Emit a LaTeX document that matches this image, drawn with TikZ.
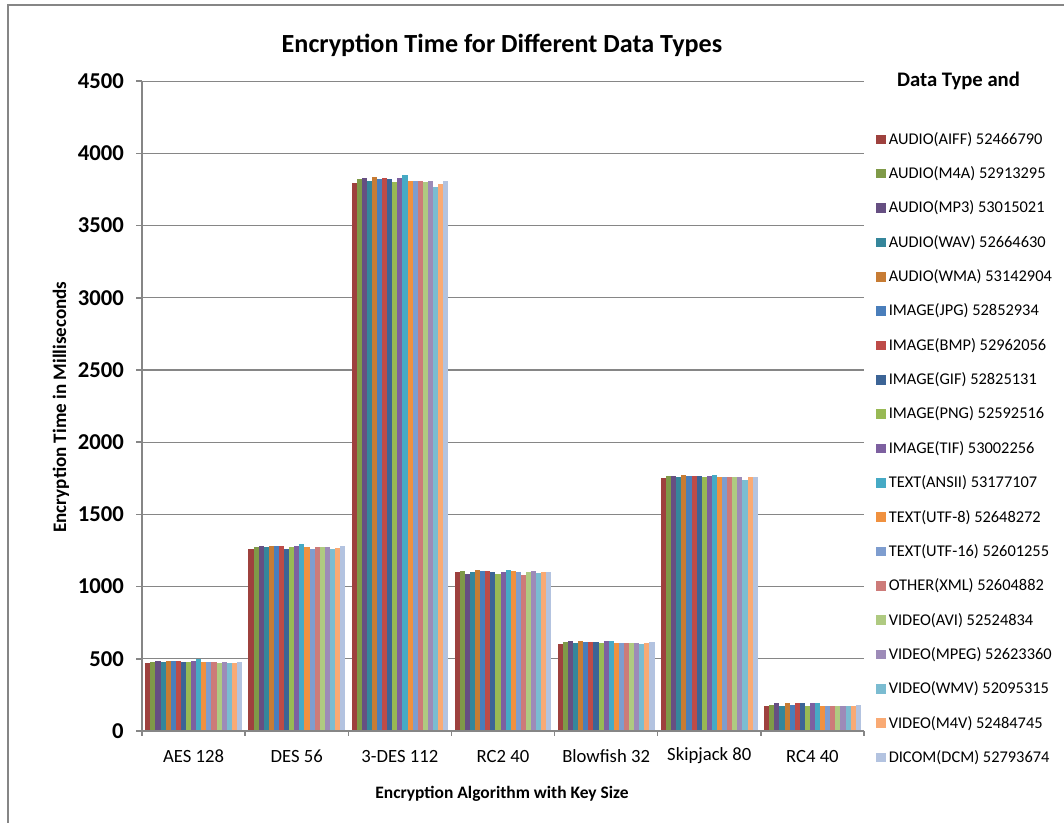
\documentclass[tikz,border=0pt]{standalone}
\usepackage{fontspec}
\setmainfont{Carlito}
\definecolor{c0}{HTML}{9E413E}
\definecolor{c1}{HTML}{7F9A48}
\definecolor{c2}{HTML}{664F82}
\definecolor{c3}{HTML}{35869B}
\definecolor{c4}{HTML}{C77C34}
\definecolor{c5}{HTML}{4A7EBB}
\definecolor{c6}{HTML}{BE4B48}
\definecolor{c7}{HTML}{3C6496}
\definecolor{c8}{HTML}{98B954}
\definecolor{c9}{HTML}{7D60A0}
\definecolor{c10}{HTML}{46AAC5}
\definecolor{c11}{HTML}{F0913F}
\definecolor{c12}{HTML}{7E9DCF}
\definecolor{c13}{HTML}{CD7B79}
\definecolor{c14}{HTML}{AFCA81}
\definecolor{c15}{HTML}{9D8BB8}
\definecolor{c16}{HTML}{7BBCD1}
\definecolor{c17}{HTML}{F9AA74}
\definecolor{c18}{HTML}{B3C3E0}
\definecolor{axisgray}{HTML}{868686}
\tikzset{
  gridline/.style={draw=axisgray, line width=1pt},
  axisline/.style={draw=axisgray, line width=1.1pt},
  frameline/.style={draw=axisgray, line width=1.3pt},
  ticklab/.style={font=\fontsize{17}{20}\selectfont\bfseries, anchor=east, inner sep=0pt},
  catlab/.style={font=\fontsize{14}{17}\selectfont, anchor=center, inner sep=0pt},
  legtext/.style={font=\fontsize{12.3}{15}\selectfont, anchor=west, inner sep=0pt},
  titlelab/.style={font=\fontsize{19.6}{23}\selectfont\bfseries, inner sep=0pt},
  axtitle/.style={font=\fontsize{13.1}{16}\selectfont\bfseries, inner sep=0pt},
  ytitlestyle/.style={font=\fontsize{14.3}{17}\selectfont\bfseries, inner sep=0pt},
  legtitlestyle/.style={font=\fontsize{15.5}{18}\selectfont\bfseries, inner sep=0pt},
}
\begin{document}
\begin{tikzpicture}[x=0.75pt,y=-0.75pt]
\useasboundingbox (0,0) rectangle (1064,822);
\fill[white] (0,0) rectangle (1064,822);
% outer frame
\draw[frameline] (8,830) -- (8,5) -- (1070,5);
% gridlines
\foreach \t in {500,1000,...,4500}
  \draw[gridline] (142,{731-\t*0.1444}) -- (864,{731-\t*0.1444});
% y ticks
\foreach \t in {0,500,...,4500}
  \draw[axisline] (136,{731-\t*0.1444}) -- (142,{731-\t*0.1444});
% bars
\foreach \vals [count=\g from 0] in {
 {469,476,487,476,487,487,487,476,476,487,499,476,476,476,469,476,469,469,476},
 {1258,1272,1283,1272,1283,1283,1283,1258,1272,1283,1293,1272,1258,1272,1272,1272,1258,1265,1283},
 {3793,3820,3827,3811,3836,3820,3827,3820,3799,3827,3848,3811,3811,3811,3799,3811,3765,3786,3811},
 {1100,1105,1090,1100,1115,1110,1110,1100,1090,1100,1115,1110,1100,1080,1100,1110,1095,1100,1100},
 {600,616,625,609,625,616,616,616,609,625,625,607,607,607,607,607,600,607,616},
 {1750,1765,1765,1760,1775,1765,1765,1765,1760,1765,1775,1760,1760,1760,1760,1760,1740,1760,1760},
 {173,182,192,173,192,182,192,192,173,192,192,173,173,173,173,173,173,173,182}} {
  \foreach \v [count=\i from 0] in \vals {
    \fill[c\i] ({142+\g*103.14+3.3+\i*5.09},731) rectangle ({142+\g*103.14+3.3+(\i+1)*5.09},{731-\v*0.1444});
  }
}
% axes
\draw[axisline] (142,82) -- (142,731) -- (864,731);
\foreach \k in {0,...,7}
  \draw[axisline] ({142+\k*103.14},731) -- ({142+\k*103.14},736);
% tick labels
\foreach \t in {0,500,...,4500}
  \node[ticklab] (yt\t) at (124,{731-\t*0.1444}) {\t};
% category labels
\foreach \c [count=\k from 0] in {AES 128,DES 56,3-DES 112,RC2 40,Blowfish 32,Skipjack 80,RC4 40}
  \node[catlab] (cat\k) at ({142+(\k+0.5)*103.14},756) {\c};
% titles
\node[titlelab] (title) at (502,45) {Encryption Time for Different Data Types};
\node[axtitle] (xtitle) at (502,794) {Encryption Algorithm with Key Size};
\node[ytitlestyle, rotate=90] (ytitle) at (61,407) {Encryption Time in Milliseconds};
% legend
\node[legtitlestyle, anchor=center] (legtitle) at (958.5,81) {Data Type and};
\foreach \n [count=\i from 0] in {AUDIO(AIFF) 52466790,AUDIO(M4A) 52913295,AUDIO(MP3) 53015021,AUDIO(WAV) 52664630,AUDIO(WMA) 53142904,IMAGE(JPG) 52852934,IMAGE(BMP) 52962056,IMAGE(GIF) 52825131,IMAGE(PNG) 52592516,IMAGE(TIF) 53002256,TEXT(ANSII) 53177107,TEXT(UTF-8) 52648272,TEXT(UTF-16) 52601255,OTHER(XML) 52604882,VIDEO(AVI) 52524834,VIDEO(MPEG) 52623360,VIDEO(WMV) 52095315,VIDEO(M4V) 52484745,DICOM(DCM) 52793674} {
  \fill[c\i] (876,{139.3+\i*34.35-4.8}) rectangle (885.5,{139.3+\i*34.35+4.8});
  \node[legtext] (leg\i) at (888.5,{139.3+\i*34.35}) {\n};
}
\end{tikzpicture}
\end{document}
